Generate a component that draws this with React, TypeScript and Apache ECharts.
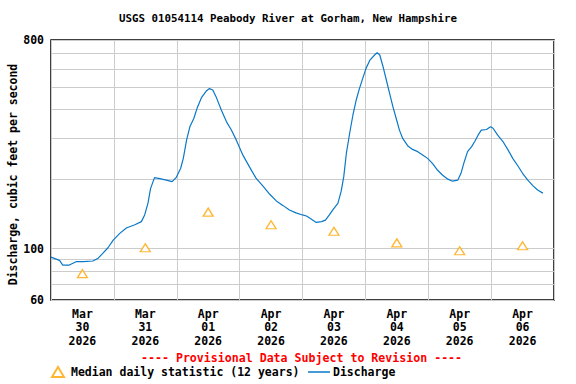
import React, { useEffect, useRef } from "react";
import * as echarts from "echarts";

const titleText = "USGS 01054114 Peabody River at Gorham, New Hampshire";
const provisionalText = "---- Provisional Data Subject to Revision ----";
const yAxisName = "Discharge, cubic feet per second";
const medianName = "Median daily statistic (12 years)";
const dischargeName = "Discharge";

const dayStarts = [
  "2026-03-30 00:00", "2026-03-31 00:00", "2026-04-01 00:00", "2026-04-02 00:00",
  "2026-04-03 00:00", "2026-04-04 00:00", "2026-04-05 00:00", "2026-04-06 00:00",
  "2026-04-07 00:00",
];
const labelNoons = [
  "2026-03-30 12:00", "2026-03-31 12:00", "2026-04-01 12:00", "2026-04-02 12:00",
  "2026-04-03 12:00", "2026-04-04 12:00", "2026-04-05 12:00", "2026-04-06 12:00",
];
const yGridValues = [60, 70, 80, 90, 100, 200, 300, 400, 500, 600, 700, 800];
const yLabelValues = [60, 100, 800];

const medianTimes = labelNoons;
const medianValues = [78, 101, 144, 127, 119, 106, 98, 103];

const dischargeTimes = [
  "2026-03-30 00:00", "2026-03-30 03:15", "2026-03-30 04:30", "2026-03-30 07:00",
  "2026-03-30 09:45", "2026-03-30 12:15", "2026-03-30 16:00", "2026-03-30 18:00",
  "2026-03-30 19:45", "2026-03-30 21:45", "2026-03-30 23:45",
  "2026-03-31 02:15", "2026-03-31 04:45", "2026-03-31 08:00", "2026-03-31 10:30",
  "2026-03-31 11:45", "2026-03-31 13:00", "2026-03-31 14:00", "2026-03-31 15:30",
  "2026-03-31 17:30", "2026-03-31 20:00", "2026-03-31 22:15", "2026-03-31 23:45",
  "2026-04-01 01:30", "2026-04-01 02:30", "2026-04-01 03:45", "2026-04-01 05:00",
  "2026-04-01 06:30", "2026-04-01 07:45", "2026-04-01 09:30", "2026-04-01 11:15",
  "2026-04-01 12:30", "2026-04-01 13:45", "2026-04-01 15:00", "2026-04-01 17:00",
  "2026-04-01 19:00", "2026-04-01 20:45", "2026-04-01 22:45",
  "2026-04-02 01:15", "2026-04-02 03:45", "2026-04-02 06:15", "2026-04-02 09:00",
  "2026-04-02 11:30", "2026-04-02 14:00", "2026-04-02 16:30", "2026-04-02 19:00",
  "2026-04-02 21:30",
  "2026-04-03 00:00", "2026-04-03 01:30", "2026-04-03 03:00", "2026-04-03 05:15",
  "2026-04-03 07:15", "2026-04-03 08:45", "2026-04-03 10:15", "2026-04-03 11:30",
  "2026-04-03 13:30", "2026-04-03 14:45", "2026-04-03 15:45", "2026-04-03 16:45",
  "2026-04-03 18:00", "2026-04-03 19:15", "2026-04-03 20:30", "2026-04-03 21:45",
  "2026-04-03 23:00",
  "2026-04-04 00:15", "2026-04-04 01:45", "2026-04-04 03:30", "2026-04-04 04:30",
  "2026-04-04 05:30", "2026-04-04 06:45", "2026-04-04 08:00", "2026-04-04 09:15",
  "2026-04-04 10:30", "2026-04-04 11:45", "2026-04-04 13:00", "2026-04-04 14:15",
  "2026-04-04 16:15", "2026-04-04 18:00", "2026-04-04 20:00", "2026-04-04 22:00",
  "2026-04-04 23:45",
  "2026-04-05 01:45", "2026-04-05 03:30", "2026-04-05 05:30", "2026-04-05 07:30",
  "2026-04-05 09:15", "2026-04-05 11:15", "2026-04-05 12:30", "2026-04-05 13:45",
  "2026-04-05 15:00", "2026-04-05 16:30", "2026-04-05 17:45", "2026-04-05 19:00",
  "2026-04-05 20:15", "2026-04-05 22:15", "2026-04-05 23:45",
  "2026-04-06 00:45", "2026-04-06 02:30", "2026-04-06 04:30", "2026-04-06 06:30",
  "2026-04-06 08:15", "2026-04-06 10:15", "2026-04-06 12:00", "2026-04-06 14:00",
  "2026-04-06 16:00", "2026-04-06 17:45", "2026-04-06 19:45",
];
const dischargeValues = [
  92, 89, 85, 85, 88, 88, 88.5, 91, 95.5, 101, 109,
  116.5, 123, 127, 131, 140, 157, 182, 203, 201, 198, 195, 203,
  223, 246, 295, 337, 366, 405, 452, 481, 493, 486, 455, 398,
  354, 328, 295,
  254, 226, 202, 186, 172, 161, 154, 147, 143,
  140, 138.5, 135, 130, 131, 133, 140, 147, 157, 177, 205, 259,
  316, 379, 440, 494, 546,
  603, 655, 689, 705, 689, 613, 537, 470, 412, 367, 326, 300,
  278, 269, 263, 254, 246,
  233, 219, 208, 200, 196, 198, 212, 238, 263, 276, 291, 310,
  326, 328, 337,
  332, 310, 291, 267, 246, 228, 212, 198, 187, 179.5, 174,
];

const monthNames = ["Jan", "Feb", "Mar", "Apr", "May", "Jun", "Jul", "Aug", "Sep", "Oct", "Nov", "Dec"];
const FONT = "DejaVu Sans Mono";
const FS = 11.5;

function toMs(s: string): number {
  const [d, t] = s.split(" ");
  const [y, m, day] = d.split("-").map(Number);
  const [hh, mm] = t.split(":").map(Number);
  return new Date(y, m - 1, day, hh, mm).getTime();
}

export default function App() {
  const ref = useRef<HTMLDivElement>(null);
  useEffect(() => {
    if (!ref.current) return;
    const chart = echarts.init(ref.current, null, { renderer: "svg" });
    const textBase = { fontFamily: FONT, fontWeight: "bold" as const, fontSize: FS, color: "#000" };
    chart.setOption({
      animation: false,
      backgroundColor: "#fff",
      title: [
        {
          text: titleText,
          left: "center",
          top: 13,
          padding: 0,
          textStyle: { ...textBase, fontSize: 10.8 },
        },
        {
          text: provisionalText,
          left: 141,
          top: 352,
          padding: 0,
          textStyle: { ...textBase, fontSize: 11.6, color: "#ff0000" },
        },
      ],
      legend: [
        {
          data: [{ name: medianName, icon: "triangle" }],
          left: 51,
          top: 366,
          itemWidth: 12,
          itemHeight: 10,
          padding: 0,
          textStyle: { ...textBase, padding: [0, 0, 0, 2] },
          selectedMode: false,
        },
        {
          data: [{ name: dischargeName, icon: "rect" }],
          left: 308,
          top: 366,
          itemWidth: 22,
          itemHeight: 1.5,
          padding: 0,
          textStyle: { ...textBase, padding: [0, 0, 0, -2] },
          selectedMode: false,
        },
      ],
      grid: {
        left: 51,
        top: 40,
        width: 503,
        height: 260,
        show: true,
        borderColor: "#000",
        borderWidth: 1.5,
        backgroundColor: "transparent",
        containLabel: false,
        outerBoundsMode: "none",
      },
      xAxis: {
        type: "value",
        min: toMs(dayStarts[0]),
        max: toMs(dayStarts[dayStarts.length - 1]),
        axisLine: { show: false },
        axisTick: { show: false, customValues: dayStarts.map(toMs) },
        splitLine: { show: true, lineStyle: { color: "#cccccc", width: 1 } },
        axisLabel: {
          customValues: labelNoons.map(toMs),
          ...textBase,
          lineHeight: 13.5,
          margin: 7,
          hideOverlap: false,
          formatter: (val: number) => {
            const d = new Date(val);
            const dd = String(d.getDate()).padStart(2, "0");
            return `${monthNames[d.getMonth()]}\n${dd}\n${d.getFullYear()}`;
          },
        },
      },
      yAxis: {
        type: "log",
        logBase: 10,
        min: 60,
        max: 800,
        name: yAxisName,
        nameLocation: "middle",
        nameGap: 32,
        nameMoveOverlap: false,
        nameTextStyle: { ...textBase, padding: [0, 9, 0, 0] },
        axisLine: { show: false },
        axisTick: { show: false, customValues: yGridValues },
        splitLine: { show: true, lineStyle: { color: "#cccccc", width: 1 } },
        axisLabel: {
          customValues: yLabelValues,
          ...textBase,
          margin: 7,
          showMinLabel: true,
          showMaxLabel: true,
        },
      },
      series: [
        {
          name: medianName,
          type: "scatter",
          symbol: "triangle",
          symbolSize: [10, 8],
          itemStyle: { color: "#fff", borderColor: "#ffa500", borderWidth: 1.3 },
          data: medianTimes.map((t, i) => [toMs(t), medianValues[i]]),
          z: 3,
        },
        {
          name: dischargeName,
          type: "line",
          showSymbol: false,
          symbol: "none",
          lineStyle: { color: "#0a78c8", width: 1.2 },
          itemStyle: { color: "#0a78c8" },
          data: dischargeTimes.map((t, i) => [toMs(t), dischargeValues[i]]),
          z: 4,
        },
      ],
    });
    return () => chart.dispose();
  }, []);
  return <div ref={ref} style={{ width: 576, height: 384, position: "absolute", left: 0, top: 0 }} />;
}
